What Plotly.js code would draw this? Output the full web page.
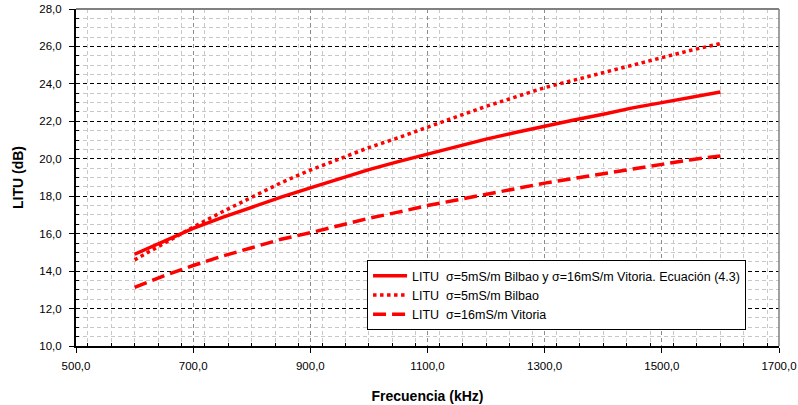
<!DOCTYPE html>
<html>
<head>
<meta charset="utf-8">
<script src="https://cdn.plot.ly/plotly-3.0.1.min.js"></script>
<style>html,body{margin:0;padding:0;background:#fff;}#chart{width:798px;height:405px;}</style>
</head>
<body>
<div id="chart"></div>
<script>
const frecuencia = [600,650,700,750,800,850,900,950,1000,1050,1100,1150,1200,1250,1300,1350,1400,1450,1500,1550,1600];
const lituEcuacion = [14.9,15.6,16.28,16.87,17.42,17.95,18.45,18.95,19.42,19.85,20.25,20.65,21.05,21.4,21.75,22.07,22.38,22.72,23.0,23.3,23.57];
const lituBilbao = [14.6,15.5,16.35,17.17,17.95,18.72,19.4,20.0,20.6,21.12,21.7,22.25,22.8,23.3,23.8,24.2,24.6,25.02,25.4,25.8,26.15];
const lituVitoria = [13.13,13.75,14.3,14.8,15.25,15.7,16.05,16.45,16.82,17.15,17.5,17.8,18.1,18.4,18.7,18.95,19.22,19.45,19.7,19.95,20.15];
const nombres = [
  "LITU\u00a0\u00a0σ=5mS/m Bilbao y σ=16mS/m Vitoria. Ecuación (4.3)",
  "LITU\u00a0\u00a0σ=5mS/m Bilbao",
  "LITU\u00a0\u00a0σ=16mS/m Vitoria"
];
const xTitulo = "Frecuencia (kHz)";
const yTitulo = "LITU (dB)";

const font = "Liberation Sans, Arial, sans-serif";
const traces = [
  {x: frecuencia, y: lituEcuacion, name: nombres[0], mode: 'lines', line: {color: '#ff0000', width: 3.5}},
  {x: frecuencia, y: lituBilbao, name: nombres[1], mode: 'lines', line: {color: '#ff0000', width: 3.5, dash: 'dot'}},
  {x: frecuencia, y: lituVitoria, name: nombres[2], mode: 'lines', line: {color: '#ff0000', width: 3.5, dash: '13px,6px'}}
];
const layout = {
  width: 798, height: 405,
  margin: {l: 76, r: 19, t: 9, b: 59},
  paper_bgcolor: '#fff', plot_bgcolor: '#fff',
  separators: ', ',
  font: {family: font, size: 11, color: '#000'},
  showlegend: true,
  legend: {
    x: 0.414, y: 0.255, xanchor: 'left', yanchor: 'top',
    bgcolor: '#fff', bordercolor: '#000', borderwidth: 1,
    font: {family: font, size: 12.5, color: '#000'},
    tracegroupgap: 0, itemwidth: 34
  },
  xaxis: {
    range: [500, 1700], dtick: 200, tick0: 500, tickformat: '.1f',
    showline: true, linecolor: '#000', linewidth: 2,
    ticks: 'outside', ticklen: 5, tickcolor: '#000', tickwidth: 1,
    ticklabelstandoff: 3,
    showgrid: true, gridcolor: '#8c8c8c', griddash: '4px,3px', gridwidth: 1,
    zeroline: false,
    tickfont: {family: font, size: 11.5, color: '#000'},
    title: {text: xTitulo, font: {family: font, size: 14, color: '#000', weight: 'bold'}, standoff: 20},
    minor: {dtick: 40, showgrid: true, gridcolor: '#c8c8c8', griddash: '4px,3px', gridwidth: 1, ticks: 'inside', ticklen: 3, tickcolor: '#000'}
  },
  yaxis: {
    range: [10, 28], dtick: 2, tick0: 10, tickformat: '.1f',
    showline: true, linecolor: '#000', linewidth: 2,
    ticks: 'outside', ticklen: 5, tickcolor: '#000', tickwidth: 1,
    ticklabelstandoff: 5,
    showgrid: true, gridcolor: '#000', griddash: '4px,3px', gridwidth: 1,
    zeroline: false,
    tickfont: {family: font, size: 11.5, color: '#000'},
    title: {text: yTitulo, font: {family: font, size: 14, color: '#000', weight: 'bold'}, standoff: 12},
    minor: {dtick: 0.5, showgrid: true, gridcolor: '#c8c8c8', griddash: '4px,3px', gridwidth: 1, ticks: 'inside', ticklen: 3, tickcolor: '#000'}
  },
  shapes: [
    {type: 'line', xref: 'paper', yref: 'paper', x0: 0, x1: 1, y0: 1, y1: 1, line: {color: '#808080', width: 2}},
    {type: 'line', xref: 'paper', yref: 'paper', x0: 1, x1: 1, y0: 0, y1: 1, line: {color: '#808080', width: 1.5}}
  ]
};
Plotly.newPlot('chart', traces, layout, {displayModeBar: false, staticPlot: true});
</script>
</body>
</html>
